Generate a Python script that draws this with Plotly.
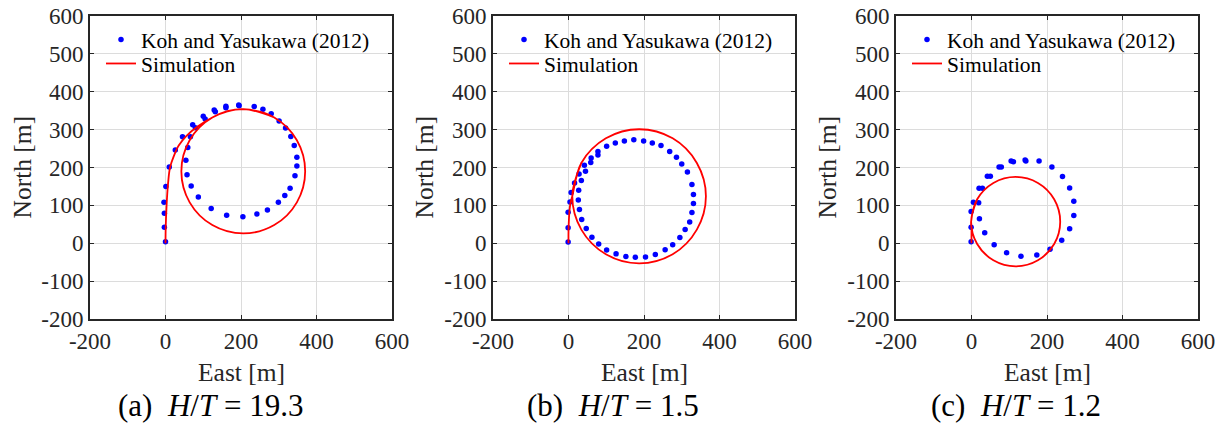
import plotly.graph_objects as go

W, H = 1227, 425

# ---------------- data ----------------
# (a) H/T = 19.3
a_exp_x = [0, -3, -3, -4, 1, 10, 26, 45, 72, 100, 129, 160, 194, 235, 258, 280, 301, 318, 332, 341,
           348, 348, 343, 330, 316, 299, 270, 242, 205, 162, 121, 87, 68, 57, 54, 59, 66, 79, 105, 132, 160, 195]
a_exp_y = [4, 42, 79, 108, 150, 201, 246, 281, 313, 335, 352, 362, 365, 361, 354, 342, 323, 304, 282, 258,
           227, 204, 178, 145, 126, 108, 88, 77, 70, 74, 92, 122, 151, 181, 219, 253, 281, 305, 328, 347, 358, 363]
a_sim_x = [0, 0.5, 2, 4, 7, 12, 22, 35, 55, 85, 124, 164, 206, 288, 348, 370, 348, 288, 206, 124, 64,
           42, 64, 124, 206, 288]
a_sim_y = [0, 40, 80, 120, 160, 200, 230, 258, 283, 308, 332, 348, 354, 332, 272, 190, 108, 48, 26, 48, 108,
           190, 272, 332, 354, 332]

# (b) H/T = 1.5
b_exp_x = [-1, -1, -1, 4, 7, 16, 28, 42, 60, 78, 101, 124, 148, 173, 199, 222, 245, 268, 286, 300, 315,
           327, 331, 331, 327, 321, 309, 295, 276, 256, 230, 204, 177, 152, 126, 101, 80, 62, 47, 35, 29,
           26, 27, 34, 45, 59, 78]
b_exp_y = [3, 41, 82, 109, 134, 159, 183, 206, 225, 242, 256, 265, 270, 273, 270, 265, 258, 242, 227, 209, 188,
           155, 129, 105, 81, 56, 36, 15, -4, -17, -30, -36, -37, -35, -28, -18, -2, 16, 39, 63, 89,
           114, 140, 166, 190, 213, 233]
b_sim_x = [0, 0, 1, 3, 6, 10, 34, 99, 187, 276, 340, 364, 340, 276, 187, 99, 34, 10, 34]
b_sim_y = [0, 30, 60, 90, 110, 124, 212, 277, 301, 277, 212, 124, 36, -29, -53, -29, 36, 124, 212]

# (c) H/T = 1.2
c_exp_x = [-1, -1, -1, 5, 20, 42, 73, 105, 142, 179, 213, 241, 260, 271, 271, 260, 239, 208, 173, 131,
           93, 60, 35, 21, 19, 29, 50, 79, 111, 144]
c_exp_y = [4, 42, 84, 108, 145, 177, 201, 217, 220, 217, 201, 176, 146, 111, 73, 38, 8, -16, -31, -34,
           -25, -4, 28, 65, 107, 145, 177, 201, 215, 217]
c_sim_x = [0, 0, 0, -1, 15, 58, 117, 176, 219, 235, 219, 176, 117, 58, 15, -1, 15]
c_sim_y = [0, 20, 40, 57, 116, 159, 175, 159, 116, 57, -2, -45, -61, -45, -2, 57, 116]

panels = [
    dict(ex=a_exp_x, ey=a_exp_y, sx=a_sim_x, sy=a_sim_y, cap="(a)&nbsp; <i>H</i>/<i>T</i> = 19.3"),
    dict(ex=b_exp_x, ey=b_exp_y, sx=b_sim_x, sy=b_sim_y, cap="(b)&nbsp; <i>H</i>/<i>T</i> = 1.5"),
    dict(ex=c_exp_x, ey=c_exp_y, sx=c_sim_x, sy=c_sim_y, cap="(c)&nbsp; <i>H</i>/<i>T</i> = 1.2"),
]

x_ticks = [-200, 0, 200, 400, 600]
x_tick_text = ["-200", "0", "200", "400", "600"]
y_ticks = [-200, -100, 0, 100, 200, 300, 400, 500, 600]
y_tick_text = ["-200", "-100", "0", "100", "200", "300", "400", "500", "600"]
exp_name = "Koh and Yasukawa (2012)"
sim_name = "Simulation"

# ---------------- layout geometry (pixels) ----------------
plot_left = [90, 493, 896]
plot_w = 302
plot_top, plot_bot = 16, 319
ylab_x = [22, 424, 827]

FONT = "Liberation Serif"
AX = "#262626"

fig = go.Figure()
layout = dict(width=W, height=H, margin=dict(l=0, r=0, t=0, b=0, pad=0, autoexpand=False),
              paper_bgcolor="white", plot_bgcolor="white", showlegend=True,
              font=dict(family=FONT, color="black"))
annotations = []

for i, p in enumerate(panels):
    sfx = "" if i == 0 else str(i + 1)
    leg_e = "legend" + ("" if i == 0 else str(2 * i + 1))
    leg_s = "legend" + str(2 * i + 2)
    fig.add_trace(go.Scatter(x=p["ex"], y=p["ey"], mode="markers", name=exp_name,
                             marker=dict(color="#0000ff", size=5.5),
                             xaxis="x" + sfx, yaxis="y" + sfx, legend=leg_e))
    fig.add_trace(go.Scatter(x=p["sx"], y=p["sy"], mode="lines", name=sim_name,
                             line=dict(color="#ff0000", width=1.8, shape="spline", smoothing=1.0),
                             xaxis="x" + sfx, yaxis="y" + sfx, legend=leg_s))
    x0 = plot_left[i] / W
    x1 = (plot_left[i] + plot_w) / W
    common = dict(showline=True, linecolor=AX, linewidth=2, mirror="ticks",
                  ticks="inside", ticklen=4, tickwidth=1, tickcolor=AX, automargin=False,
                  showgrid=True, gridcolor="#dcdcdc", gridwidth=1, zeroline=False,
                  tickfont=dict(family=FONT, size=23, color=AX), fixedrange=True)
    layout["xaxis" + sfx] = dict(domain=[x0, x1], range=[-200, 600], tickvals=x_ticks,
                                 ticktext=x_tick_text, anchor="y" + sfx, **common)
    layout["yaxis" + sfx] = dict(domain=[(H - plot_bot) / H, (H - plot_top) / H], range=[-200, 600],
                                 tickvals=y_ticks, ticktext=y_tick_text, anchor="x" + sfx, **common)
    for leg, top in ((leg_e, 19), (leg_s, 43)):
        layout[leg] = dict(x=(plot_left[i] + 11) / W, y=(H - top) / H, xanchor="left", yanchor="top",
                           bgcolor="rgba(0,0,0,0)", borderwidth=0,
                           font=dict(family=FONT, size=21.5, color="black"))
    cx = plot_left[i] + plot_w / 2
    annotations.append(dict(text="East [m]", x=cx / W, y=(H - 372) / H, xref="paper", yref="paper",
                            showarrow=False, xanchor="center", yanchor="middle",
                            font=dict(family=FONT, size=25.5, color=AX)))
    annotations.append(dict(text="North [m]", x=ylab_x[i] / W, y=(H - 167.5) / H, xref="paper", yref="paper",
                            showarrow=False, xanchor="center", yanchor="middle", textangle=-90,
                            font=dict(family=FONT, size=25.5, color=AX)))
    annotations.append(dict(text=p["cap"], x=(cx - 31) / W, y=(H - 405) / H, xref="paper", yref="paper",
                            showarrow=False, xanchor="center", yanchor="middle",
                            font=dict(family=FONT, size=31, color="black")))

layout["annotations"] = annotations
fig.update_layout(**layout)
fig.write_html("out.html")
